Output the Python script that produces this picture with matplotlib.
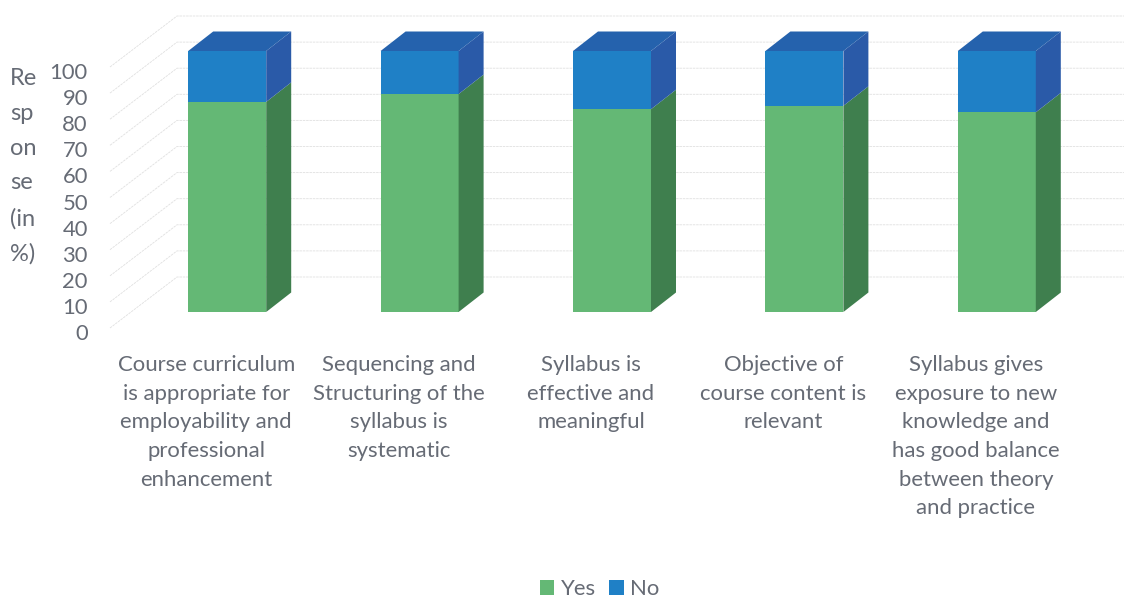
import matplotlib
matplotlib.use("Agg")
import matplotlib.pyplot as plt
import numpy as np
from matplotlib.transforms import ScaledTranslation

categories = [
    "Course curriculum\nis appropriate for\nemployability and\nprofessional\nenhancement",
    "Sequencing and\nStructuring of the\nsyllabus is\nsystematic",
    "Syllabus is\neffective and\nmeaningful",
    "Objective of\ncourse content is\nrelevant",
    "Syllabus gives\nexposure to new\nknowledge and\nhas good balance\nbetween theory\nand practice",
]
yes_values = [80.5, 83.5, 77.7, 79.0, 76.5]
no_values = [19.5, 16.5, 22.3, 21.0, 23.5]
y_ticks = list(range(0, 101, 10))

W, H = 1124, 597
plt.rcParams["font.family"] = ["Lato", "DejaVu Sans"]
TXT = "#666b75"
fig = plt.figure(figsize=(W / 100, H / 100), dpi=100, facecolor="white")
ax = fig.add_axes([110 / W, (H - 328) / H, 962 / W, 261 / H])
ax.set_xlim(-0.5, 4.5)
ax.set_ylim(0, 100)
for s in ax.spines.values():
    s.set_visible(False)

xu = 962 / 5      # px per category
yu = 261 / 100    # px per percent


def shift(x, v, px, py):
    """Project a point of the front plane back by a pixel offset."""
    return x + px / xu, v + py / yu


# wall and floor gridlines
for v in y_ticks:
    x0, v0 = -0.5, v
    x1, v1 = shift(-0.5, v, 67, 51)
    x2 = 4.5 + 60 / xu
    ax.plot([x0, x1, x2], [v0, v1, v1], color="#e0e0e0", lw=0.6, ls=(0, (3, 1)),
            clip_on=False, zorder=1)

GREEN, GREEN_S = "#64b875", "#3f7f4e"
BLUE, BLUE_S, BLUE_T = "#1f80c6", "#2a5aa8", "#2562ad"
F = (21, 16)     # front plane of the bars
B = (46, 35.5)   # back plane of the bars
bw = 78 / xu
xs = np.arange(len(categories))
xf = xs + F[0] / xu
yes = np.array(yes_values)
no = np.array(no_values)
base = F[1] / yu

ax.bar(xf, yes, bw, bottom=base, color=GREEN, zorder=3, label="Yes", clip_on=False)
ax.bar(xf, no, bw, bottom=base + yes, color=BLUE, zorder=3, label="No", clip_on=False)

dxp = (B[0] - F[0]) / xu
dyp = (B[1] - F[1]) / yu
for xc, y_, n_ in zip(xf, yes, no):
    r = xc + bw / 2
    l = xc - bw / 2
    ax.fill([r, r + dxp, r + dxp, r],
            [base, base + dyp, base + y_ + dyp, base + y_],
            color=GREEN_S, lw=0, zorder=3, clip_on=False)
    ax.fill([r, r + dxp, r + dxp, r],
            [base + y_, base + y_ + dyp, base + y_ + n_ + dyp, base + y_ + n_],
            color=BLUE_S, lw=0, zorder=3, clip_on=False)
    ax.fill([l, l + dxp, r + dxp, r],
            [base + y_ + n_, base + y_ + n_ + dyp, base + y_ + n_ + dyp, base + y_ + n_],
            color=BLUE_T, lw=0, zorder=3, clip_on=False)

ax.set_xticks(xs)
ax.set_xticklabels(categories, fontsize=15.9, color=TXT, linespacing=1.54, va="top")
ax.set_yticks(y_ticks)
ax.set_yticklabels([str(v) for v in y_ticks], fontsize=15.8, color=TXT)
ax.tick_params(axis="both", length=0)
ax.tick_params(axis="x", pad=19.5)
ax.tick_params(axis="y", pad=16)
off = ScaledTranslation(0, -0.04, fig.dpi_scale_trans)
for t in ax.get_yticklabels():
    t.set_transform(t.get_transform() + off)

ax.set_ylabel("Re\nsp\non\nse\n(in\n%)", rotation=0, fontsize=17, color=TXT,
              linespacing=1.81, ha="left", va="center", multialignment="left")
ax.yaxis.set_label_coords((10 - 110) / 962, (328 - 166.5) / 261)

ax.legend(loc="center", bbox_to_anchor=(600 / W, (H - 589) / H), bbox_transform=fig.transFigure,
          ncol=2, frameon=False, fontsize=15.9, labelcolor=TXT, handlelength=0.65,
          handleheight=0.65, handletextpad=0.3, columnspacing=0.6, borderpad=0, borderaxespad=0)

fig.savefig("out.png", dpi=100, facecolor="white")
